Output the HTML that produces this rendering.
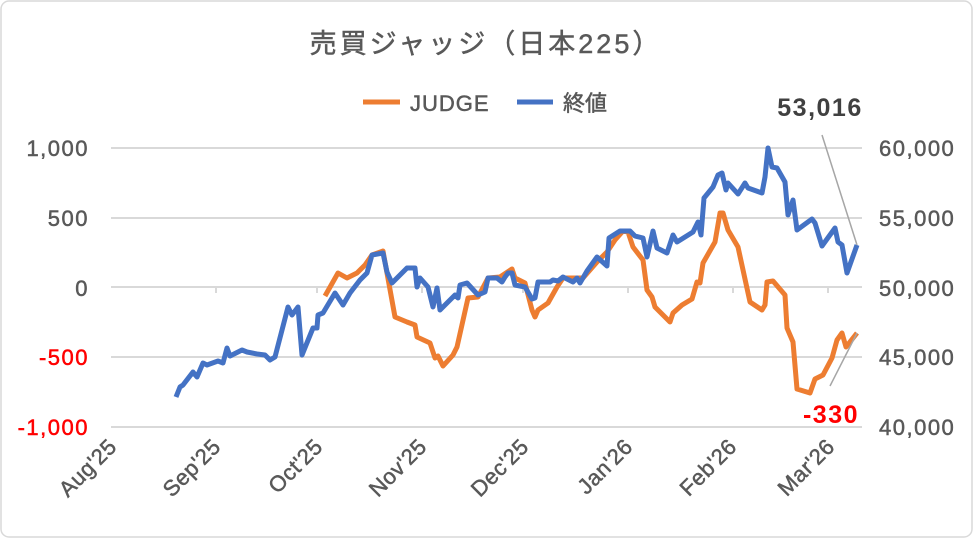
<!DOCTYPE html>
<html><head><meta charset="utf-8"><style>
body{margin:0;background:#fff;}
svg text{font-family:"Liberation Sans","Noto Sans CJK JP",sans-serif;}
.t{stroke:#595959;stroke-width:0.5;}
</style></head><body>
<svg width="973" height="538" viewBox="0 0 973 538" xmlns="http://www.w3.org/2000/svg">
<rect x="1" y="1" width="971" height="536" rx="8" fill="#fff" stroke="#d9d9d9" stroke-width="1.5"/>
<text x="486" y="53" text-anchor="middle" font-size="27" letter-spacing="3" fill="#595959" class="t">売買ジャッジ（日本225）</text>
<line x1="363" y1="102" x2="400" y2="102" stroke="#ED7D31" stroke-width="5"/>
<text x="410" y="111" font-size="22" letter-spacing="1" fill="#595959" class="t">JUDGE</text>
<line x1="517" y1="102" x2="553" y2="102" stroke="#4472C4" stroke-width="5"/>
<text x="563" y="111" font-size="22" fill="#595959" class="t">終値</text>
<g stroke="#d9d9d9" stroke-width="2">
<line x1="111" y1="148" x2="862" y2="148"/><line x1="111" y1="218" x2="862" y2="218"/>
<line x1="111" y1="287" x2="862" y2="287"/><line x1="111" y1="357" x2="862" y2="357"/>
<line x1="111" y1="427" x2="862" y2="427"/>
<line x1="216" y1="287" x2="216" y2="293"/><line x1="317" y1="287" x2="317" y2="293"/><line x1="422" y1="287" x2="422" y2="293"/><line x1="523" y1="287" x2="523" y2="293"/><line x1="628" y1="287" x2="628" y2="293"/><line x1="733" y1="287" x2="733" y2="293"/><line x1="828" y1="287" x2="828" y2="293"/>
</g>
<g font-size="22" text-anchor="end" letter-spacing="1.5">
<text x="89" y="156" fill="#595959" class="t">1,000</text><text x="89" y="226" fill="#595959" class="t">500</text><text x="89" y="296" fill="#595959" class="t">0</text><text x="89" y="365" fill="#FF0000" style="stroke:#f00;stroke-width:0.5">-500</text><text x="89" y="435" fill="#FF0000" style="stroke:#f00;stroke-width:0.5">-1,000</text>
</g>
<g font-size="22" fill="#595959" letter-spacing="1.5" class="t">
<text x="879" y="156">60,000</text><text x="879" y="226">55,000</text><text x="879" y="296">50,000</text><text x="879" y="365">45,000</text><text x="879" y="435">40,000</text>
</g>
<g font-size="22" fill="#595959" text-anchor="end" letter-spacing="0.5" class="t">
<text transform="translate(118,448) rotate(-45)">Aug'25</text>
<text transform="translate(222,448) rotate(-45)">Sep'25</text>
<text transform="translate(324,448) rotate(-45)">Oct'25</text>
<text transform="translate(428,448) rotate(-45)">Nov'25</text>
<text transform="translate(530,448) rotate(-45)">Dec'25</text>
<text transform="translate(634,448) rotate(-45)">Jan'26</text>
<text transform="translate(738,448) rotate(-45)">Feb'26</text>
<text transform="translate(836,448) rotate(-45)">Mar'26</text>
</g>
<polyline fill="none" stroke="#ED7D31" stroke-width="5" stroke-linejoin="round" points="325,296 338,273 347,278 357,273 365,265 372,255 383,251 395,317 407,322 415,325 417,337 430,343 435,358 438,356 443,366 453,355 457,347 468,298 478,297 488,278 500,277 512,269 515,278 525,283 532,310 535,317 538,310 548,303 557,287 563,278 577,278 583,278 597,262 607,252 615,240 623,231 628,232 633,247 643,260 647,290 652,297 655,307 670,322 673,313 682,305 692,299 697,282 700,283 703,263 715,242 720,213 723,213 728,230 738,247 750,302 762,310 765,305 767,282 773,281 785,295 787,328 793,342 797,389 810,393 815,379 823,375 832,358 837,340 842,333 846,347 857,333"/>
<polyline fill="none" stroke="#4472C4" stroke-width="5" stroke-linejoin="round" points="176,397 180,387 183,385 193,372 197,377 203,363 207,365 218,361 223,363 227,348 230,356 242,350 247,352 257,354 265,355 270,360 275,357 288,307 292,315 298,307 302,355 313,328 317,328 318,315 323,313 335,293 343,305 350,293 360,280 367,273 372,255 383,253 387,272 392,283 407,268 415,268 417,287 420,278 428,287 433,307 437,288 440,310 455,295 458,298 460,285 467,283 478,295 485,292 488,278 497,278 502,282 505,277 508,273 512,273 515,285 525,287 532,299 535,298 538,282 550,282 553,280 558,281 563,277 573,282 577,278 580,283 587,271 597,257 607,266 609,238 620,231 630,231 635,236 643,238 647,257 653,231 657,248 667,253 673,235 677,242 693,232 698,222 701,235 704,198 713,187 718,175 722,173 726,190 728,183 738,194 745,183 748,188 762,193 765,177 768,148 772,167 777,168 785,182 788,215 793,200 797,230 812,219 815,223 822,246 835,228 838,242 842,245 847,273 857,245"/>
<line x1="822" y1="135" x2="857" y2="245" stroke="#a6a6a6" stroke-width="1.5"/>
<line x1="830" y1="386" x2="857" y2="333" stroke="#a6a6a6" stroke-width="1.5"/>
<text x="820" y="116" text-anchor="middle" font-size="25" letter-spacing="1.5" font-weight="bold" fill="#404040">53,016</text>
<text x="831" y="423" text-anchor="middle" font-size="25" letter-spacing="1.5" font-weight="bold" fill="#FF0000">-330</text>
</svg>
</body></html>
